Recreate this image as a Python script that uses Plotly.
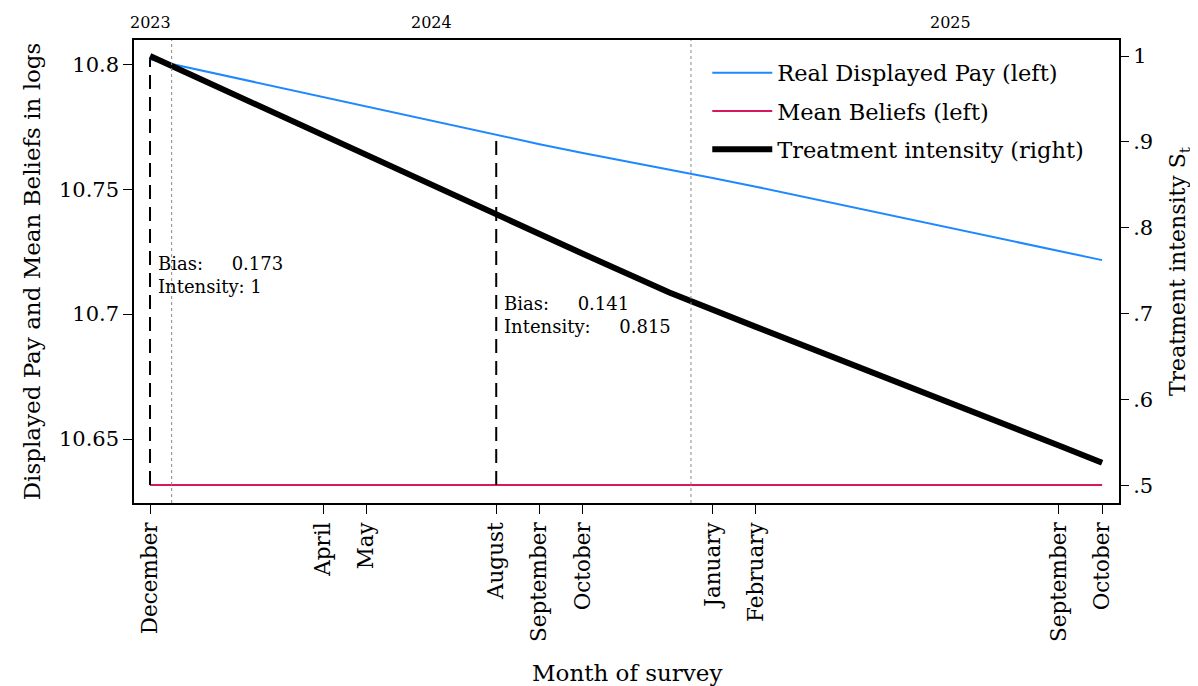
import plotly.graph_objects as go
import pandas as pd

# ---- data ----
months = ["2023-12", "2024-04", "2024-05", "2024-08", "2024-09", "2024-10",
          "2024-12", "2025-01", "2025-02", "2025-09", "2025-10"]
month_labels = ["December", "April", "May", "August", "September", "October",
                None, "January", "February", "September", "October"]
real_pay = [10.802, 10.7868, 10.783, 10.7716, 10.768, 10.7645,
            10.758, 10.7545, 10.751, 10.7251, 10.7216]
mean_beliefs = [10.6316] * len(months)
intensity = [1.0, 0.908, 0.885, 0.815, 0.793, 0.770,
             0.725, 0.705, 0.685, 0.547, 0.527]

bias_months = ["2023-12", "2024-08"]
bias_text = [("0.173", "1"), ("0.141", "0.815")]
year_labels = ["2023", "2024", "2025"]
year_positions = [0, 6.5, 18.5]
year_breaks = [0.5, 12.5]

# month index relative to Dec 2023
base = pd.Period("2023-12", freq="M")
def midx(m):
    return (pd.Period(m, freq="M") - base).n
x = [midx(m) for m in months]

FONT = "DejaVu Serif"
BLUE = "#1E88FF"
PINK = "#D8175E"

fig = go.Figure()

fig.add_trace(go.Scatter(x=x, y=real_pay, mode="lines", name="Real Displayed Pay (left)",
                         line=dict(color=BLUE, width=2), legendgroup="a"))
fig.add_trace(go.Scatter(x=x, y=mean_beliefs, mode="lines", name="Mean Beliefs (left)",
                         line=dict(color=PINK, width=2), legendgroup="b"))
fig.add_trace(go.Scatter(x=x, y=intensity, mode="lines", name="Treatment intensity (right)",
                         line=dict(color="black", width=6), yaxis="y2", legendgroup="c"))

# bias dashed lines
for bm in bias_months:
    i = months.index(bm)
    fig.add_trace(go.Scatter(x=[x[i], x[i]], y=[mean_beliefs[i], real_pay[i]], mode="lines",
                             line=dict(color="black", width=2, dash="14px,8px"),
                             showlegend=False, hoverinfo="skip"))

ANNF = dict(family=FONT, size=18, color="black")
ann = []
i0 = months.index(bias_months[0])
ann.append(dict(x=x[i0], y=10.7155, xref="x", yref="y", xanchor="left", yanchor="middle",
                xshift=6, align="left", showarrow=False,
                text=f"Bias:&nbsp;&nbsp;&nbsp;&nbsp;&nbsp;{bias_text[0][0]}<br>Intensity: {bias_text[0][1]}",
                font=ANNF))
i1 = months.index(bias_months[1])
ann.append(dict(x=x[i1], y=10.6995, xref="x", yref="y", xanchor="left", yanchor="middle",
                xshift=6, align="left", showarrow=False,
                text=f"Bias:&nbsp;&nbsp;&nbsp;&nbsp;&nbsp;{bias_text[1][0]}<br>Intensity:&nbsp;&nbsp;&nbsp;&nbsp;&nbsp;{bias_text[1][1]}",
                font=ANNF))
for yl, yp in zip(year_labels, year_positions):
    ann.append(dict(x=yp, y=1, xref="x", yref="paper", yanchor="bottom", yshift=6,
                    showarrow=False, text=yl, font=dict(family=FONT, size=16, color="black")))
ann.append(dict(x=0.5, y=0, xref="paper", yref="paper", yanchor="middle", yshift=-170,
                showarrow=False, text="Month of survey", font=dict(family=FONT, size=23, color="black")))

shapes = []
for yb in year_breaks:
    shapes.append(dict(type="line", x0=yb, x1=yb, y0=0, y1=1, xref="x", yref="paper",
                       line=dict(color="#888888", width=1, dash="dot")))

tickvals = [xi for xi, l in zip(x, month_labels) if l]
ticktext = [l for l in month_labels if l]

fig.update_layout(
    width=1198, height=686,
    margin=dict(l=126, r=87, t=32, b=191),
    plot_bgcolor="white", paper_bgcolor="white",
    font=dict(family=FONT, size=22, color="black"),
    annotations=ann, shapes=shapes,
    showlegend=True,
    legend=dict(x=0.582, y=0.975, xanchor="left", yanchor="top",
                bgcolor="rgba(0,0,0,0)", font=dict(family=FONT, size=22.5),
                tracegroupgap=6, itemwidth=60),
    xaxis=dict(range=[-0.37, 22.39], tickmode="array", tickvals=tickvals, ticktext=ticktext,
               tickangle=-90, ticks="outside", ticklen=9, tickcolor="black",
               showline=True, linecolor="black", linewidth=1.5, mirror=True,
               showgrid=False, zeroline=False, automargin=False,
               tickfont=dict(family=FONT, size=21.5)),
    yaxis=dict(range=[10.6244, 10.8097], tickmode="array",
               tickvals=[10.65, 10.7, 10.75, 10.8], ticktext=["10.65", "10.7", "10.75", "10.8"],
               ticks="outside", ticklen=9, tickcolor="black",
               showline=True, linecolor="black", linewidth=1.5, mirror=True,
               showgrid=False, zeroline=False, automargin=False,
               tickfont=dict(family=FONT, size=21),
               title=dict(text="Displayed Pay and Mean Beliefs in logs",
                          font=dict(family=FONT, size=23), standoff=12)),
    yaxis2=dict(range=[0.4802, 1.0186], overlaying="y", side="right", tickmode="array",
                tickvals=[0.5, 0.6, 0.7, 0.8, 0.9, 1.0],
                ticktext=[".5", ".6", ".7", ".8", ".9", "1"],
                ticks="outside", ticklen=9, tickcolor="black",
                showline=False, showgrid=False, zeroline=False, automargin=False,
                tickfont=dict(family=FONT, size=21),
                title=dict(text="Treatment intensity S<sub>t</sub>",
                           font=dict(family=FONT, size=22), standoff=17)),
)

fig.write_html("out.html")
